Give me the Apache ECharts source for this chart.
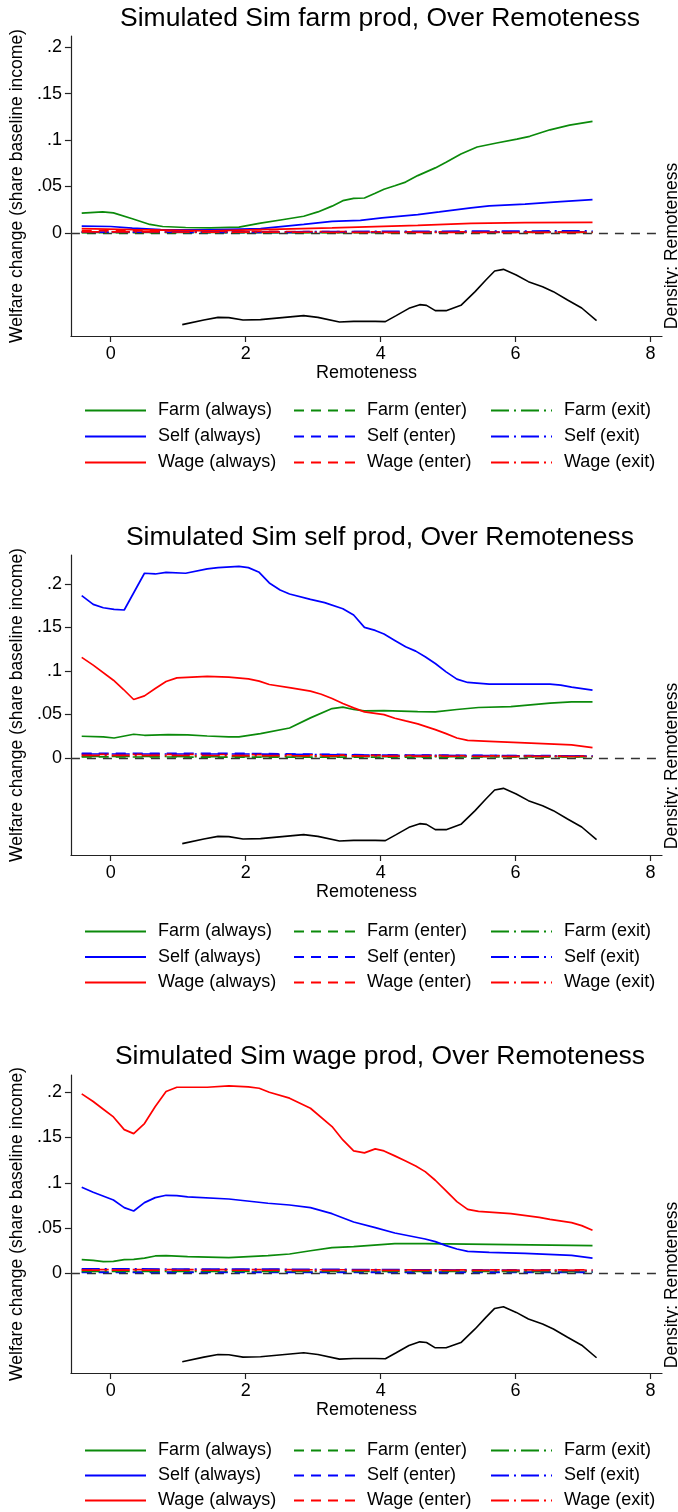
<!DOCTYPE html>
<html><head><meta charset="utf-8">
<script src="https://cdn.jsdelivr.net/npm/echarts@6/dist/echarts.min.js"></script>
<style>html,body{margin:0;padding:0;background:#fff}#c{width:678px;height:1512px}</style>
</head><body><div id="c"></div>
<script>
// ---------- DATA ----------
const titles = ['Simulated Sim farm prod, Over Remoteness','Simulated Sim self prod, Over Remoteness','Simulated Sim wage prod, Over Remoteness'];
const xTicks = [0, 2, 4, 6, 8];
const yTicks = [0, 0.05, 0.1, 0.15, 0.2];
const xTitle = 'Remoteness';
const yTitle = 'Welfare change (share baseline income)';
const y2Title = 'Density: Remoteness';
const legendCols = [['Farm (always)','Self (always)','Wage (always)'],['Farm (enter)','Self (enter)','Wage (enter)'],['Farm (exit)','Self (exit)','Wage (exit)']];

const densityRemoteness = [[1.06,0.0227],[1.38,0.032],[1.59,0.0373],[1.75,0.0367],[1.96,0.032],[2.22,0.0327],[2.54,0.0367],[2.86,0.0407],[3.07,0.0373],[3.39,0.028],[3.6,0.0293],[3.92,0.0293],[4.07,0.0287],[4.23,0.0407],[4.42,0.0553],[4.58,0.0627],[4.68,0.0613],[4.81,0.0507],[4.97,0.0507],[5.19,0.0613],[5.4,0.0887],[5.56,0.112],[5.69,0.13],[5.82,0.1333],[6.01,0.122],[6.19,0.1087],[6.4,0.0987],[6.56,0.0887],[6.77,0.072],[6.98,0.056],[7.2,0.0307]];

// Panel 1: farm productivity
const p1FarmAlways = [[-0.43,0.0212],[-0.12,0.0226],[0.04,0.0215],[0.32,0.0153],[0.58,0.0091],[0.77,0.0069],[1.11,0.0058],[1.48,0.0055],[1.9,0.0062],[2.22,0.0106],[2.54,0.0142],[2.86,0.0179],[3.07,0.0226],[3.28,0.0288],[3.44,0.0347],[3.6,0.0372],[3.76,0.0376],[3.92,0.0427],[4.05,0.047],[4.21,0.0507],[4.37,0.0547],[4.55,0.0617],[4.81,0.07],[4.97,0.076],[5.19,0.085],[5.43,0.0925],[5.72,0.0968],[6.02,0.101],[6.21,0.104],[6.51,0.111],[6.8,0.116],[7.14,0.12]];
const p1SelfAlways = [[-0.43,0.0073],[0.0,0.0069],[0.32,0.0051],[0.74,0.0036],[1.48,0.0033],[2.22,0.0047],[2.86,0.0091],[3.28,0.0124],[3.7,0.0135],[4.02,0.0161],[4.55,0.0197],[4.87,0.0226],[5.34,0.027],[5.61,0.0292],[6.14,0.031],[6.67,0.0336],[7.14,0.0358]];
const p1WageAlways = [[-0.43,0.0045],[0.32,0.0035],[1.48,0.0022],[2.22,0.0036],[3.28,0.0055],[4.55,0.008],[5.34,0.0102],[6.14,0.011],[7.14,0.0113]];
const p1FarmEnter = [[-0.43,0.0004],[2,0.0003],[4,0.0004],[7.14,0.0005]];
const p1SelfEnter = [[-0.43,0.0008],[2,0.0006],[4,0.0008],[7.14,0.001]];
const p1WageEnter = [[-0.43,0.0026],[1.5,0.0018],[4,0.0012],[7.14,0.0008]];
const p1FarmExit = [[-0.43,0.0006],[2,0.0005],[4,0.0007],[7.14,0.0009]];
const p1SelfExit = [[-0.43,0.0012],[2,0.001],[4,0.0016],[7.14,0.0022]];
const p1WageExit = [[-0.43,0.0012],[2,0.0008],[4,0.0006],[7.14,0.0005]];

// Panel 2: self-employment productivity
const p2FarmAlways = [[-0.43,0.025],[-0.11,0.0242],[0.05,0.023],[0.34,0.0273],[0.5,0.0261],[0.85,0.0269],[1.14,0.0265],[1.43,0.0253],[1.75,0.0242],[1.9,0.0242],[2.22,0.028],[2.65,0.0345],[2.96,0.0461],[3.28,0.0568],[3.44,0.0584],[3.6,0.0557],[3.76,0.0541],[4.05,0.0545],[4.55,0.0534],[4.81,0.053],[5.13,0.0557],[5.45,0.058],[5.93,0.0591],[6.51,0.063],[6.83,0.0645],[7.14,0.0645]];
const p2SelfAlways = [[-0.43,0.1866],[-0.26,0.1766],[-0.11,0.1727],[0.05,0.1708],[0.2,0.1701],[0.5,0.2123],[0.66,0.2115],[0.82,0.2134],[1.11,0.2123],[1.43,0.2173],[1.59,0.2188],[1.9,0.2203],[2.04,0.2188],[2.2,0.2134],[2.35,0.2012],[2.51,0.1931],[2.65,0.1885],[2.96,0.1823],[3.17,0.1785],[3.44,0.1716],[3.6,0.1643],[3.76,0.1501],[3.92,0.1466],[4.05,0.1424],[4.21,0.1351],[4.37,0.1278],[4.52,0.1228],[4.66,0.1163],[4.81,0.1086],[4.97,0.099],[5.13,0.0906],[5.29,0.0868],[5.61,0.0848],[5.93,0.0848],[6.51,0.0848],[6.67,0.0837],[6.83,0.0814],[7.14,0.0779]];
const p2WageAlways = [[-0.43,0.1156],[-0.26,0.1067],[0.04,0.0894],[0.19,0.0787],[0.34,0.0672],[0.5,0.0714],[0.66,0.0798],[0.82,0.0879],[0.98,0.0921],[1.43,0.0937],[1.75,0.0929],[2.04,0.091],[2.2,0.0883],[2.35,0.0845],[2.67,0.0806],[2.96,0.0768],[3.12,0.0733],[3.28,0.0683],[3.44,0.0626],[3.6,0.0576],[3.76,0.053],[4.05,0.0499],[4.21,0.0457],[4.37,0.0426],[4.55,0.0392],[4.81,0.0326],[4.97,0.028],[5.13,0.023],[5.29,0.0203],[5.61,0.0192],[6.14,0.0173],[6.83,0.015],[7.14,0.0119]];
const p2FarmEnter = [[-0.43,0.0012],[3,0.001],[7.14,0.0012]];
const p2SelfEnter = [[-0.43,0.0052],[2,0.0052],[4,0.0035],[7.14,0.0024]];
const p2WageEnter = [[-0.43,0.0042],[2,0.004],[4,0.003],[7.14,0.002]];
const p2FarmExit = [[-0.43,0.0018],[3,0.0015],[7.14,0.0016]];
const p2SelfExit = [[-0.43,0.0046],[2,0.0046],[4,0.0032],[7.14,0.0022]];
const p2WageExit = [[-0.43,0.003],[2,0.0028],[4,0.0022],[7.14,0.0017]];

// Panel 3: wage productivity
const p3FarmAlways = [[-0.43,0.0151],[-0.26,0.0144],[-0.11,0.0129],[0.04,0.0133],[0.2,0.0151],[0.34,0.0155],[0.5,0.0169],[0.66,0.0192],[0.82,0.0195],[1.14,0.0184],[1.75,0.0173],[2.33,0.0195],[2.65,0.0214],[2.96,0.025],[3.28,0.0284],[3.6,0.0295],[4.21,0.0328],[4.66,0.0328],[5.61,0.032],[7.14,0.0306]];
const p3SelfAlways = [[-0.43,0.095],[-0.26,0.0895],[0.04,0.081],[0.2,0.0726],[0.34,0.0689],[0.5,0.0781],[0.66,0.0836],[0.82,0.0862],[0.98,0.0858],[1.14,0.0844],[1.75,0.0821],[2.33,0.0774],[2.65,0.0755],[2.96,0.0726],[3.28,0.0659],[3.6,0.0567],[3.92,0.0505],[4.21,0.0446],[4.66,0.0379],[4.81,0.035],[4.97,0.0306],[5.13,0.0269],[5.29,0.0243],[5.61,0.0232],[6.14,0.0221],[6.83,0.0199],[7.14,0.0169]];
const p3WageAlways = [[-0.43,0.1982],[-0.26,0.1897],[-0.11,0.1812],[0.04,0.1727],[0.2,0.1587],[0.34,0.1543],[0.5,0.1654],[0.66,0.1842],[0.82,0.2007],[0.98,0.2055],[1.43,0.2055],[1.75,0.207],[2.04,0.2059],[2.2,0.2044],[2.35,0.2],[2.65,0.1934],[2.96,0.1823],[3.28,0.1621],[3.44,0.1473],[3.6,0.1352],[3.76,0.133],[3.92,0.1374],[4.05,0.1352],[4.21,0.1297],[4.37,0.1241],[4.52,0.1186],[4.66,0.1123],[4.81,0.1028],[4.97,0.091],[5.13,0.0792],[5.29,0.0707],[5.45,0.0685],[5.93,0.0659],[6.35,0.0619],[6.51,0.0597],[6.83,0.056],[6.98,0.0527],[7.14,0.0475]];
const p3FarmEnter = [[-0.43,0.0015],[3,0.0015],[7.14,0.0014]];
const p3SelfEnter = [[-0.43,0.0012],[3,0.001],[7.14,0.0012]];
const p3WageEnter = [[-0.43,0.0042],[3,0.004],[7.14,0.0038]];
const p3FarmExit = [[-0.43,0.0022],[3,0.0021],[7.14,0.002]];
const p3SelfExit = [[-0.43,0.005],[3,0.0045],[7.14,0.003]];
const p3WageExit = [[-0.43,0.0035],[3,0.0034],[7.14,0.0033]];

// ---------- STYLE / LAYOUT ----------
const FONT = 'Liberation Sans';
const colors = { Farm: '#0b8a0b', Self: '#0000ff', Wage: '#ff0000' };
const dashes = { always: 'solid', enter: [10, 7], exit: [18, 5, 2, 5] };
const layout = [
  { top: 36,   height: 300, titleTop: 5,    legendTop: 401,  legendGap: 7,   yMin: -0.111, yMax: 0.212, densLabelY: 246 },
  { top: 555,  height: 300, titleTop: 524,  legendTop: 922,  legendGap: 6.5, yMin: -0.1115, yMax: 0.2333, densLabelY: 766 },
  { top: 1075, height: 298, titleTop: 1043, legendTop: 1441, legendGap: 6,   yMin: -0.110, yMax: 0.219, densLabelY: 1285 }
];
const legendLeft = [84, 293, 490];
const panelSeries = [
  { 'Farm (always)': p1FarmAlways, 'Self (always)': p1SelfAlways, 'Wage (always)': p1WageAlways, 'Farm (enter)': p1FarmEnter, 'Self (enter)': p1SelfEnter, 'Wage (enter)': p1WageEnter, 'Farm (exit)': p1FarmExit, 'Self (exit)': p1SelfExit, 'Wage (exit)': p1WageExit },
  { 'Farm (always)': p2FarmAlways, 'Self (always)': p2SelfAlways, 'Wage (always)': p2WageAlways, 'Farm (enter)': p2FarmEnter, 'Self (enter)': p2SelfEnter, 'Wage (enter)': p2WageEnter, 'Farm (exit)': p2FarmExit, 'Self (exit)': p2SelfExit, 'Wage (exit)': p2WageExit },
  { 'Farm (always)': p3FarmAlways, 'Self (always)': p3SelfAlways, 'Wage (always)': p3WageAlways, 'Farm (enter)': p3FarmEnter, 'Self (enter)': p3SelfEnter, 'Wage (enter)': p3WageEnter, 'Farm (exit)': p3FarmExit, 'Self (exit)': p3SelfExit, 'Wage (exit)': p3WageExit }
];
const drawOrder = ['Farm (always)','Self (always)','Wage (always)','Farm (enter)','Self (enter)','Wage (enter)','Farm (exit)','Self (exit)','Wage (exit)'];

const axisColor = '#222';
const option = { animation: false, textStyle: { fontFamily: FONT, color: '#000' },
  title: [], grid: [], xAxis: [], yAxis: [], series: [], legend: [], graphic: [] };

layout.forEach((L, i) => {
  option.title.push({ text: titles[i], left: 380, top: L.titleTop, textAlign: 'center', padding: 0,
    textStyle: { fontFamily: FONT, fontSize: 26.5, fontWeight: 'normal', color: '#000' } });
  option.grid.push({ left: 70, right: 16, top: L.top, height: L.height });
  option.xAxis.push({ type: 'value', gridIndex: i, min: -0.59, max: 8.17,
    name: xTitle, nameLocation: 'middle', nameGap: 28,
    nameTextStyle: { fontFamily: FONT, fontSize: 18, color: '#000' },
    axisLine: { onZero: false, lineStyle: { color: axisColor, width: 1.2 } },
    axisTick: { length: 6, customValues: xTicks, lineStyle: { color: axisColor, width: 1.2 } },
    axisLabel: { customValues: xTicks, margin: 9, fontSize: 18, color: '#000', fontFamily: FONT },
    splitLine: { show: false } });
  option.yAxis.push({ type: 'value', gridIndex: i, min: L.yMin, max: L.yMax,
    name: yTitle, nameLocation: 'middle', nameGap: 37,
    nameTextStyle: { fontFamily: FONT, fontSize: 17.5, color: '#000' },
    axisLine: { show: true, onZero: false, lineStyle: { color: axisColor, width: 1.2 } },
    axisTick: { show: true, length: 6, customValues: yTicks, lineStyle: { color: axisColor, width: 1.2 } },
    axisLabel: { customValues: yTicks, margin: 9, fontSize: 18, color: '#000', fontFamily: FONT,
      formatter: v => (Math.abs(v) < 1e-9 ? '0' : String(+v.toFixed(3)).replace(/^0/, '')) },
    splitLine: { show: false } });
  option.yAxis.push({ type: 'value', gridIndex: i, min: 0, max: 0.6, show: false, splitLine: { show: false } });
  const yIdx = i * 2, y2Idx = i * 2 + 1;
  drawOrder.forEach((name, k) => {
    const grp = name.split(' ')[0];
    const kind = name.match(/\((\w+)\)/)[1];
    const s = { type: 'line', name, xAxisIndex: i, yAxisIndex: yIdx, data: panelSeries[i][name],
      symbol: 'none', showSymbol: false, smooth: false,
      lineStyle: { color: colors[grp], width: 1.7, type: dashes[kind] },
      itemStyle: { color: colors[grp] }, z: 3 + k };
    if (k === 0) {
      s.markLine = { silent: true, symbol: 'none', label: { show: false },
        lineStyle: { color: '#333', type: [9, 7], width: 1.3 }, data: [{ yAxis: 0 }], z: 1 };
    }
    option.series.push(s);
  });
  option.series.push({ type: 'line', name: 'Density', xAxisIndex: i, yAxisIndex: y2Idx,
    data: densityRemoteness, symbol: 'none', showSymbol: false,
    lineStyle: { color: '#000', width: 1.6 }, itemStyle: { color: '#000' } });
  legendCols.forEach((col, c) => {
    option.legend.push({ orient: 'vertical', left: legendLeft[c], top: L.legendTop, padding: 0,
      data: col, itemWidth: 61, itemHeight: 14, itemGap: L.legendGap, selectedMode: false,
      itemStyle: { opacity: 0 },
      textStyle: { fontFamily: FONT, fontSize: 18, color: '#000', lineHeight: 19, padding: [0, 0, 0, 7] } });
  });
  option.graphic.push({ type: 'text', x: 672, y: L.densLabelY, rotation: Math.PI / 2,
    style: { text: y2Title, fontFamily: FONT, fontSize: 17.5, fill: '#000', textAlign: 'center', textVerticalAlign: 'middle' } });
});

const chart = echarts.init(document.getElementById('c'), null, { renderer: 'canvas' });
chart.setOption(option);
</script>
</body></html>
